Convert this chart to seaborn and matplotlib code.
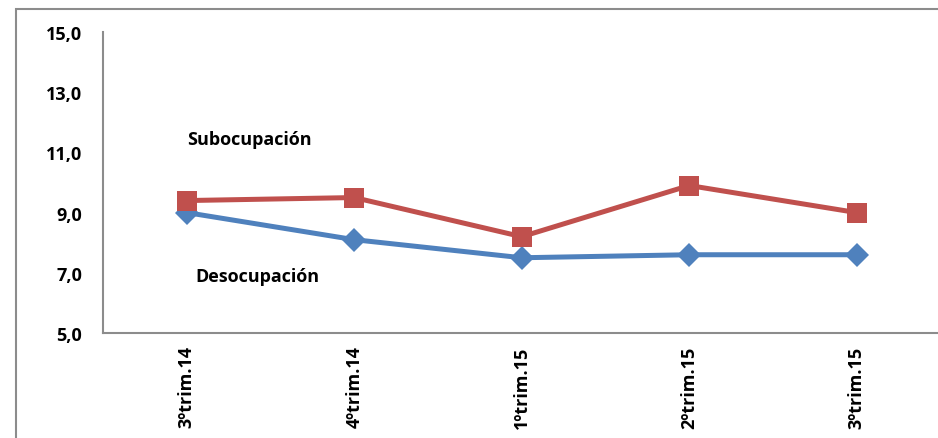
import pandas as pd
import seaborn as sns
import matplotlib.pyplot as plt
from matplotlib.patches import Rectangle

periodos = ['3ºtrim.14', '4ºtrim.14', '1ºtrim.15', '2ºtrim.15', '3ºtrim.15']
subocupacion = [9.4, 9.5, 8.2, 9.9, 9.0]
desocupacion = [9.0, 8.1, 7.5, 7.6, 7.6]
yticks = [5, 7, 9, 11, 13, 15]

df = pd.DataFrame({'periodo': periodos, 'Subocupación': subocupacion, 'Desocupación': desocupacion})

sns.set_style('white')
plt.rcParams['font.family'] = ['Open Sans', 'DejaVu Sans']
plt.rcParams['font.weight'] = 'bold'
plt.rcParams['text.color'] = 'black'
plt.rcParams['xtick.labelcolor'] = 'black'
plt.rcParams['ytick.labelcolor'] = 'black'

fig = plt.figure(figsize=(9.38, 4.39), dpi=100)
ax = fig.add_axes([103 / 938, 1 - 334 / 439, 837.5 / 938, 301 / 439])

# outer chart frame
fig.patches.append(Rectangle((16 / 938, -0.1), 1.2, 0.1 + (439 - 10) / 439, transform=fig.transFigure,
                             fill=False, edgecolor='#8c8c8c', linewidth=1.5, zorder=0))

sns.lineplot(data=df, x='periodo', y='Desocupación', ax=ax, color='#4F81BD', linewidth=3.6,
             marker='D', markersize=12.5, markeredgewidth=0, sort=False)
sns.lineplot(data=df, x='periodo', y='Subocupación', ax=ax, color='#C0504D', linewidth=3.6,
             marker='s', markersize=14, markeredgewidth=0, sort=False)

ax.set_xlim(-0.5, 4.5)
ax.set_ylim(5, 15)
ax.set_yticks(yticks)
ax.set_yticklabels([f'{v:.1f}'.replace('.', ',') for v in yticks], fontsize=13, fontweight='bold')
ax.set_xticks(range(len(periodos)))
ax.set_xticklabels(periodos, rotation=90, fontsize=13, fontweight='bold')
ax.set_xticks([0.5, 1.5, 2.5, 3.5], minor=True)
ax.tick_params(axis='x', which='major', length=0, pad=9)
ax.tick_params(axis='x', which='minor', length=5, color='#8c8c8c', width=1.2, direction='out')
ax.tick_params(axis='y', length=5, color='#8c8c8c', width=1.2, direction='out', pad=10)
ax.set_xlabel('')
ax.set_ylabel('')

sns.despine(ax=ax)
for s in ['left', 'bottom']:
    ax.spines[s].set_color('#8c8c8c')
    ax.spines[s].set_linewidth(1.5)

ax.text(0.0, 11.45, 'Subocupación', fontsize=13, fontweight='bold', va='center', ha='left')
ax.text(0.05, 6.9, 'Desocupación', fontsize=13, fontweight='bold', va='center', ha='left')

fig.savefig('out.png', dpi=100)
